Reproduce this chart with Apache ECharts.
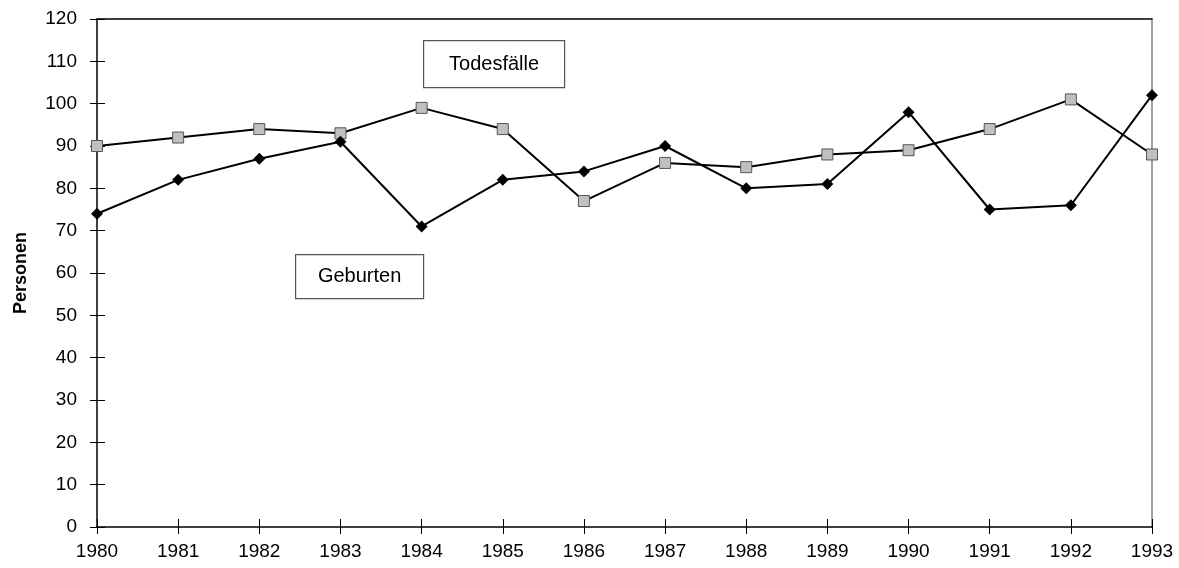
<!DOCTYPE html>
<html>
<head>
<meta charset="utf-8">
<script src="https://cdn.jsdelivr.net/npm/echarts@6/dist/echarts.min.js"></script>
<style>
  html, body { margin: 0; padding: 0; background: #fff; }
  #chart { width: 1179px; height: 568px; }
</style>
</head>
<body>
<div id="chart"></div>
<script>
var years = ['1980', '1981', '1982', '1983', '1984', '1985', '1986',
             '1987', '1988', '1989', '1990', '1991', '1992', '1993'];
var geburten = [74, 82, 87, 91, 71, 82, 84, 90, 80, 81, 98, 75, 76, 102];
var todesfaelle = [90, 92, 94, 93, 99, 94, 77, 86, 85, 88, 89, 94, 101, 88];

var font = 'Liberation Sans, Arial, sans-serif';

var chart = echarts.init(document.getElementById('chart'));

chart.setOption({
    animation: false,
    grid: { left: 97, right: 27, top: 19, bottom: 41, containLabel: false, outerBoundsMode: 'none' },
    xAxis: [
        {
            // main axis with labels, outer ticks
            type: 'category', data: years, boundaryGap: false, position: 'bottom',
            axisLine: { onZero: false, lineStyle: { color: '#000', width: 1.5 } },
            axisTick: { show: true, length: 7, lineStyle: { color: '#000' } },
            axisLabel: { color: '#000', fontSize: 19, fontFamily: font, margin: 15 },
            splitLine: { show: false }
        },
        {
            // inner ticks
            type: 'category', data: years, boundaryGap: false, position: 'bottom',
            axisLine: { show: false, onZero: false },
            axisTick: { show: true, inside: true, length: 8, lineStyle: { color: '#000' } },
            axisLabel: { show: false },
            splitLine: { show: false }
        },
        {
            // top border
            type: 'category', data: years, boundaryGap: false, position: 'top',
            axisLine: { show: true, onZero: false, lineStyle: { color: '#000', width: 1.5 } },
            axisTick: { show: false },
            axisLabel: { show: false },
            splitLine: { show: false }
        }
    ],
    yAxis: [
        {
            type: 'value', min: 0, max: 120, interval: 10, position: 'left',
            name: 'Personen', nameLocation: 'middle', nameGap: 67, nameRotate: 90,
            nameTextStyle: { color: '#000', fontSize: 18, fontWeight: 'bold', fontFamily: font },
            axisLine: { show: true, onZero: false, lineStyle: { color: '#000', width: 1.5 } },
            axisTick: { show: true, length: 7, lineStyle: { color: '#000' } },
            axisLabel: { color: '#000', fontSize: 19, fontFamily: font, margin: 20 },
            splitLine: { show: false }
        },
        {
            type: 'value', min: 0, max: 120, interval: 10, position: 'left',
            axisLine: { show: false, onZero: false },
            axisTick: { show: true, inside: true, length: 8, lineStyle: { color: '#000' } },
            axisLabel: { show: false },
            splitLine: { show: false }
        },
        {
            // right border
            type: 'value', min: 0, max: 120, interval: 10, position: 'right',
            axisLine: { show: true, onZero: false, lineStyle: { color: '#808080', width: 1.5 } },
            axisTick: { show: false },
            axisLabel: { show: false },
            splitLine: { show: false }
        }
    ],
    series: [
        {
            name: 'Geburten', type: 'line', data: geburten,
            symbol: 'diamond', symbolSize: 12,
            lineStyle: { color: '#000', width: 2 },
            itemStyle: { color: '#000', borderColor: '#000', borderWidth: 0 },
            z: 3
        },
        {
            name: 'Todesfälle', type: 'line', data: todesfaelle,
            symbol: 'rect', symbolSize: 11,
            lineStyle: { color: '#000', width: 2 },
            itemStyle: { color: '#c0c0c0', borderColor: '#555', borderWidth: 1 },
            z: 2
        }
    ],
    graphic: [
        {
            type: 'group', left: 423, top: 40,
            children: [
                { type: 'rect', shape: { x: 0, y: 0, width: 141, height: 47 },
                  style: { fill: '#fff', stroke: '#555', lineWidth: 1.2 } },
                { type: 'text', x: 70.5, y: 23.5,
                  style: { text: 'Todesfälle', fill: '#000', font: '20px ' + font,
                           align: 'center', verticalAlign: 'middle' } }
            ]
        },
        {
            type: 'group', left: 295, top: 254,
            children: [
                { type: 'rect', shape: { x: 0, y: 0, width: 128, height: 44 },
                  style: { fill: '#fff', stroke: '#555', lineWidth: 1.2 } },
                { type: 'text', x: 64, y: 22,
                  style: { text: 'Geburten', fill: '#000', font: '20px ' + font,
                           align: 'center', verticalAlign: 'middle' } }
            ]
        }
    ]
});
</script>
</body>
</html>
